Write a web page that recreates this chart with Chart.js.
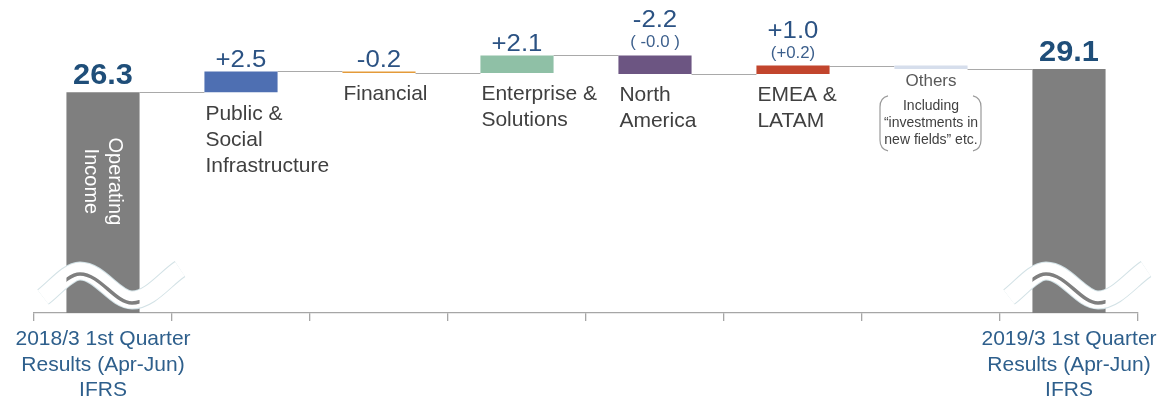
<!DOCTYPE html>
<html>
<head>
<meta charset="utf-8">
<script src="https://cdn.jsdelivr.net/npm/chart.js@4/dist/chart.umd.min.js"></script>
<style>
  html, body { margin: 0; padding: 0; background: #fff; }
  #wrap { width: 1168px; height: 398px; }
</style>
</head>
<body>
<div id="wrap"><canvas id="bridge"></canvas></div>
<script>
// Operating income bridge: 2018/3 Q1 -> 2019/3 Q1 (IFRS)
var tickLabels = [
  ['2018/3 1st Quarter', 'Results (Apr-Jun)', 'IFRS'],
  '', '', '', '', '', '',
  ['2019/3 1st Quarter', 'Results (Apr-Jun)', 'IFRS']
];
var startTotal = 26.3;
var endTotal = 29.1;
var segmentNames = [
  ['Public &', 'Social', 'Infrastructure'],
  ['Financial'],
  ['Enterprise &', 'Solutions'],
  ['North', 'America'],
  ['EMEA &', 'LATAM'],
  ['Others']
];
var changes = [2.5, -0.2, 2.1, -2.2, 1.0, -0.4];
var changeShown = [true, true, true, true, true, false];
var changeNotes = ['', '', '', '( -0.0 )', '(+0.2)', ''];
var othersNote = ['Including', '\u201cinvestments in', 'new fields\u201d etc.'];
var segmentColors = ['#4e6fb2', '#e49b3a', '#8fc0a6', '#6c5582', '#c2452d', '#d6deec'];
var totalColor = '#7f7f7f';

var FONT = "'Liberation Sans', Arial, sans-serif";

// floating bars [from, to] and the running level after each bar
var bars = [[0, startTotal]];
var levels = [startTotal];
var run = startTotal;
changes.forEach(function (c) {
  var next = Math.round((run + c) * 10) / 10;
  bars.push([run, next]);
  run = next;
  levels.push(run);
});
bars.push([0, endTotal]);
levels.push(endTotal);

var colors = [totalColor].concat(segmentColors, [totalColor]);

function fmtChange(c) {
  return (c > 0 ? '+' : '') + c.toFixed(1);
}

// text drawn a little wider than the font's natural width
function wideText(ctx, text, x, y, sx) {
  ctx.save();
  ctx.translate(x, y);
  ctx.scale(sx, 1);
  ctx.fillText(text, 0, 0);
  ctx.restore();
}

// squiggly axis-break mark across a total bar
function drawBreak(ctx, el) {
  var cx = el.x, b = el.base;
  // upper edge of the band, shifted down by dy
  function wave(dy) {
    ctx.beginPath();
    ctx.moveTo(cx - 60, b - 25 + dy);
    ctx.bezierCurveTo(cx - 48, b - 34 + dy, cx - 35, b - 51 + dy, cx - 23, b - 51 + dy);
    ctx.bezierCurveTo(cx - 3, b - 51 + dy, cx + 12, b - 22 + dy, cx + 29, b - 22 + dy);
    ctx.bezierCurveTo(cx + 47, b - 22 + dy, cx + 62, b - 43 + dy, cx + 77, b - 53 + dy);
  }
  ctx.save();
  ctx.lineCap = 'butt';
  wave(9);
  ctx.strokeStyle = '#d3e2e6';
  ctx.lineWidth = 19;
  ctx.stroke();
  ctx.strokeStyle = '#ffffff';
  ctx.lineWidth = 17;
  ctx.stroke();
  // strip of the bar showing between the two white bands
  ctx.beginPath();
  ctx.rect(el.x - el.width / 2, 0, el.width, el.base);
  ctx.clip();
  wave(12);
  ctx.strokeStyle = totalColor;
  ctx.lineWidth = 3.5;
  ctx.stroke();
  ctx.restore();
}

var bridgeDecor = {
  id: 'bridgeDecor',
  beforeDatasetsDraw: function (chart) {
    var ctx = chart.ctx, meta = chart.getDatasetMeta(0), y = chart.scales.y;
    ctx.save();
    ctx.strokeStyle = '#a9a9a9';
    ctx.lineWidth = 1.2;
    for (var i = 0; i < meta.data.length - 1; i++) {
      var a = meta.data[i], b = meta.data[i + 1];
      var py = Math.round(y.getPixelForValue(levels[i])) + 0.5;
      ctx.beginPath();
      ctx.moveTo(a.x + a.width / 2, py);
      ctx.lineTo(b.x - b.width / 2, py);
      ctx.stroke();
    }
    ctx.restore();
  },
  afterDatasetsDraw: function (chart) {
    var ctx = chart.ctx, meta = chart.getDatasetMeta(0);
    var n = meta.data.length;
    ctx.save();

    // totals: break marks, value on top
    [0, n - 1].forEach(function (i) {
      var el = meta.data[i];
      drawBreak(ctx, el);
      var top = Math.min(el.y, el.base);
      ctx.fillStyle = '#1f4e79';
      ctx.font = 'bold 29px ' + FONT;
      ctx.textAlign = 'center';
      ctx.textBaseline = 'alphabetic';
      wideText(ctx, bars[i][1].toFixed(1), el.x, top - 8, 1.06);
    });

    // rotated caption inside the first total
    var first = meta.data[0];
    ctx.save();
    ctx.translate(first.x, Math.min(first.y, first.base) + 89);
    ctx.rotate(Math.PI / 2);
    ctx.fillStyle = '#ffffff';
    ctx.font = '20px ' + FONT;
    ctx.textAlign = 'center';
    ctx.textBaseline = 'middle';
    ctx.fillText('Operating', 0, -12);
    ctx.fillText('Income', 0, 12);
    ctx.restore();

    // segment changes and names
    for (var s = 0; s < changes.length; s++) {
      var el = meta.data[s + 1];
      var top = Math.min(el.y, el.base);
      var bottom = Math.max(el.y, el.base);
      var left = el.x - el.width / 2;
      ctx.textBaseline = 'alphabetic';
      ctx.textAlign = 'center';
      if (changeShown[s]) {
        var valueY = top - 4;
        if (changeNotes[s]) {
          ctx.fillStyle = '#3c5f8c';
          ctx.font = '16px ' + FONT;
          wideText(ctx, changeNotes[s], el.x, top - 8, 1.05);
          valueY = top - 28;
        }
        ctx.fillStyle = '#2b5283';
        ctx.font = '23px ' + FONT;
        wideText(ctx, fmtChange(changes[s]), el.x, valueY, 1.12);
      }

      ctx.textBaseline = 'top';
      if (s === changes.length - 1) {
        ctx.fillStyle = '#595959';
        ctx.font = '17px ' + FONT;
        ctx.textAlign = 'center';
        ctx.fillText(segmentNames[s][0], el.x, bottom + 4);
        ctx.font = '14px ' + FONT;
        ctx.fillStyle = '#404040';
        othersNote.forEach(function (line, k) {
          ctx.fillText(line, el.x, bottom + 30 + k * 17);
        });
        // rounded brackets around the note
        ctx.strokeStyle = '#9a9a9a';
        ctx.lineWidth = 1.2;
        var bt = bottom + 27, bb = bottom + 82;
        var lx = el.x - 51, rx = el.x + 50;
        ctx.beginPath();
        ctx.moveTo(lx + 8, bt);
        ctx.quadraticCurveTo(lx, bt + 2, lx, bt + 11);
        ctx.lineTo(lx, bb - 11);
        ctx.quadraticCurveTo(lx, bb - 2, lx + 8, bb);
        ctx.moveTo(rx - 8, bt);
        ctx.quadraticCurveTo(rx, bt + 2, rx, bt + 11);
        ctx.lineTo(rx, bb - 11);
        ctx.quadraticCurveTo(rx, bb - 2, rx - 8, bb);
        ctx.stroke();
      } else {
        ctx.fillStyle = '#404040';
        ctx.font = '21px ' + FONT;
        ctx.textAlign = 'left';
        segmentNames[s].forEach(function (line, k) {
          ctx.fillText(line, left + 1, bottom + 11 + k * 26);
        });
      }
    }
    ctx.restore();
  }
};

new Chart(document.getElementById('bridge'), {
  type: 'bar',
  data: {
    labels: tickLabels,
    datasets: [{
      data: bars,
      backgroundColor: colors,
      borderWidth: 0,
      categoryPercentage: 1,
      barPercentage: 0.53
    }]
  },
  options: {
    responsive: true,
    maintainAspectRatio: false,
    animation: false,
    layout: { padding: { left: 34, right: 30, top: 11, bottom: 0 } },
    plugins: {
      legend: { display: false },
      tooltip: { enabled: false }
    },
    scales: {
      x: {
        grid: {
          display: true,
          offset: true,
          drawOnChartArea: false,
          drawTicks: true,
          tickLength: 8,
          color: '#a6a6a6',
          lineWidth: 1.3
        },
        border: { display: true, color: '#a6a6a6', width: 1.3 },
        ticks: {
          color: '#2e5f8c',
          font: { family: FONT, size: 21, lineHeight: 1.2 },
          padding: 6,
          maxRotation: 0,
          autoSkip: false
        },
        afterFit: function (scale) { scale.height = 85; }
      },
      y: { display: false, min: 0, max: 36 }
    }
  },
  plugins: [bridgeDecor]
});
</script>
</body>
</html>
